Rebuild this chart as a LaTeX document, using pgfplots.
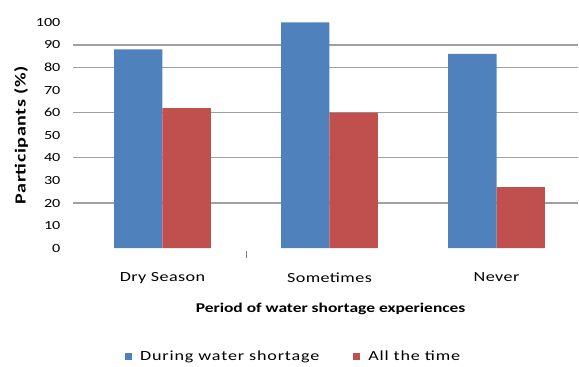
\documentclass[border=0pt]{standalone}
\usepackage{fontspec}
\setmainfont{Carlito}[FakeStretch=1.3]
\usepackage{pgfplots}
\pgfplotsset{compat=1.18}

\definecolor{barblue}{HTML}{4F81BD}
\definecolor{barred}{HTML}{C0504D}
\definecolor{gridgray}{HTML}{A0A0A0}

\begin{document}
\begin{tikzpicture}
\begin{axis}[
  name=ax,
  scale only axis,
  width=506bp, height=226.2bp,
  xmin=-0.536, xmax=2.49,
  ymin=0, ymax=100,
  axis line style={draw=none},
  xtick={0,1,2},
  xticklabels={Dry Season,Sometimes,Never},
  major x tick style={draw=none},
  x tick label style={font=\fontsize{14}{16}\selectfont\addfontfeature{LetterSpace=3}, yshift=-21bp},
  ytick={0,10,...,100},
  major y tick style={draw=none},
  y tick label style={font=\fontsize{12.5}{14}\selectfont, xshift=-9bp},
  /pgf/number format/assume math mode=true,
  extra y ticks={20,40,60,80,90},
  extra y tick labels={},
  extra y tick style={grid=major, major grid style={gridgray, line width=1.3bp}, major tick length=0pt},
  xlabel={\bfseries Period of water shortage experiences},
  xlabel style={font=\fontsize{13.5}{15}\selectfont, yshift=-12bp, xshift=5bp},
  ylabel={\bfseries Participants (\%)},
  ylabel style={font=\fontsize{15.5}{17}\selectfont\addfontfeature{LetterSpace=4}, yshift=1bp},
  legend columns=2,
  legend style={at={(axis description cs:0.4367,-0.4797)}, anchor=center,
    draw=none, fill=none, font=\fontsize{14}{16}\selectfont\addfontfeature{LetterSpace=6},
    /tikz/every odd column/.append style={column sep=6bp},
    /tikz/every even column/.append style={column sep=32bp}},
  legend image code/.code={\fill[#1] (0bp,-3.5bp) rectangle (7bp,3.5bp);},
  clip=false,
]
\addplot[ybar, bar width=0.29, bar shift=-0.145, fill=barblue, draw=none]
  coordinates {(0,88) (1,100) (2,86)};
\addlegendentry{During water shortage}
\addplot[ybar, bar width=0.29, bar shift=0.145, fill=barred, draw=none]
  coordinates {(0,62) (1,60) (2,27)};
\addlegendentry{All the time}
% small category divider tick below the baseline
\draw[gray, line width=0.8bp] ([yshift=-3bp]axis cs:0.5,0) -- ([yshift=-10bp]axis cs:0.5,0);
\end{axis}
\useasboundingbox ([xshift=-73bp,yshift=-118.5bp]ax.south west) rectangle ([yshift=22.3bp]ax.north east);
\end{tikzpicture}
\end{document}
